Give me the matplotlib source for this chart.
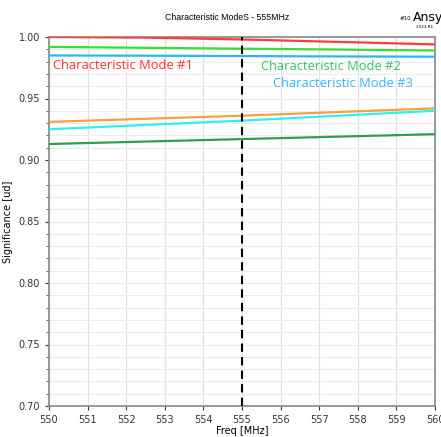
import numpy as np
import matplotlib.pyplot as plt
from matplotlib.ticker import MultipleLocator

# frequency points (MHz)
freq = [550, 552.5, 555, 557.5, 560]

# significance per mode
mode_red = [1.000, 0.9995, 0.998, 0.996, 0.994]
mode_green = [0.992, 0.9912, 0.9905, 0.9898, 0.989]
mode_blue = [0.985, 0.9848, 0.9845, 0.9842, 0.984]
mode_orange = [0.931, 0.9335, 0.936, 0.939, 0.942]
mode_cyan = [0.925, 0.9285, 0.932, 0.936, 0.940]
mode_dkgreen = [0.913, 0.915, 0.917, 0.919, 0.921]

series = [
    (mode_red, '#ff3b3b'),
    (mode_green, '#33e033'),
    (mode_blue, '#29b6f6'),
    (mode_orange, '#f5a040'),
    (mode_cyan, '#2ef0f0'),
    (mode_dkgreen, '#2e9e4f'),
]

labels = ["Characteristic Mode #1", "Characteristic Mode #2", "Characteristic Mode #3"]
label_colors = ['#ff3030', '#33c466', '#33b8f5']
label_pos = [(550.1, 0.9765), (555.5, 0.9757), (555.8, 0.9625)]

fig = plt.figure(figsize=(4.41, 4.37), dpi=100)
ax = fig.add_axes([49 / 441, 1 - 406 / 437, (435 - 49) / 441, (406 - 37) / 437])

for vals, col in series:
    ax.plot(freq, vals, color=col, lw=1.6, zorder=3)

ax.axvline(555, color='black', ls=(0, (4, 2.5)), lw=1.5, zorder=4)

for txt, col, (x, y) in zip(labels, label_colors, label_pos):
    ax.text(x, y, txt, color=col, fontsize=9.3, family='Open Sans', va='center', ha='left', zorder=5)

ax.set_xlim(550, 560)
ax.set_ylim(0.70, 1.00)
ax.xaxis.set_major_locator(MultipleLocator(1))
ax.yaxis.set_major_locator(MultipleLocator(0.05))
ax.yaxis.set_minor_locator(MultipleLocator(0.01))
ax.yaxis.set_major_formatter(plt.FormatStrFormatter('%.2f'))
ax.grid(True, axis='x', color='#e0e0e0', lw=0.9, zorder=0)
ax.grid(True, axis='y', which='both', color='#ececec', lw=0.7, zorder=0)
ax.tick_params(labelsize=7, colors='#333333', length=3)
ax.tick_params(which='minor', length=2, colors='#555555')
for s in ax.spines.values():
    s.set_color('#888888')
    s.set_linewidth(1.2)

ax.set_xlabel('Freq [MHz]', fontsize=7, labelpad=1)
ax.set_ylabel('Significance [ud]', fontsize=7, labelpad=4)

fig.text(227 / 441, 1 - 17 / 437, 'Characteristic ModeS - 555MHz', fontsize=6.3,
         family='Liberation Sans', ha='center', va='center')
fig.text(413 / 441, 1 - 17 / 437, 'Ansys', fontsize=9, ha='left', va='center')
fig.text(400 / 441, 1 - 18 / 437, '#10', fontsize=4, ha='left', va='center')
fig.text(416 / 441, 1 - 27 / 437, '2023 R1', fontsize=3, ha='left', va='center')

fig.savefig('out.png', dpi=100)
